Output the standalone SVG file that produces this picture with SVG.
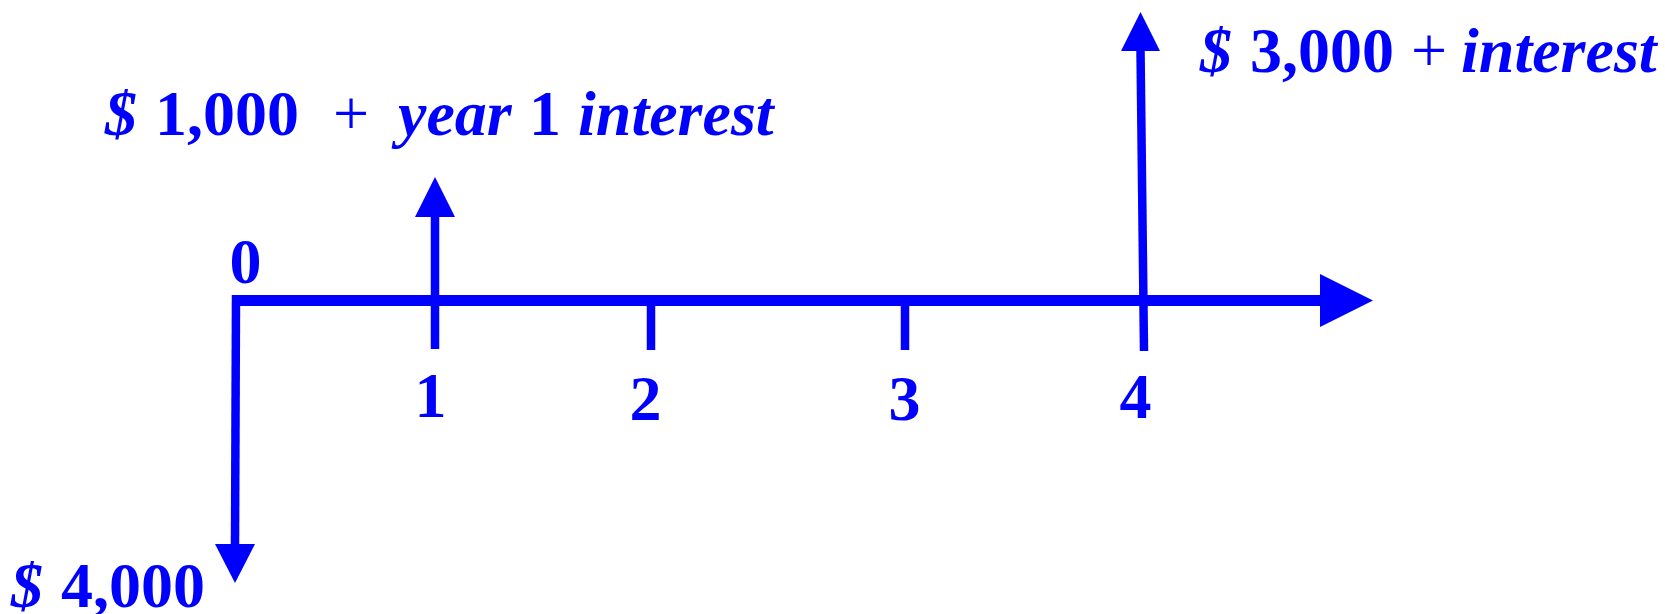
<svg xmlns="http://www.w3.org/2000/svg" width="1665" height="614" viewBox="0 0 1665 614">
<style>
.ln{stroke:#0000FF;fill:none;stroke-linecap:butt}
.ah{fill:#0000FF;stroke:none}
.t{font-family:"Liberation Serif","Times New Roman",serif;font-size:64px;fill:#0000FF;font-weight:bold}
.i{font-style:italic}
.n{font-weight:normal}
.m{text-anchor:middle}
</style>
<rect width="1665" height="614" fill="#FFFFFF"/>
<g id="connectors">
  <line class="ln" x1="232" y1="300.5" x2="1322" y2="300.5" stroke-width="11"/>
  <polygon class="ah" points="1320,274 1373,300.5 1320,327"/>
  <line class="ln" x1="236" y1="295" x2="235" y2="546" stroke-width="8.5"/>
  <polygon class="ah" points="215,544 255,544 235,583"/>
  <line class="ln" x1="435" y1="349" x2="435" y2="215" stroke-width="8.5"/>
  <polygon class="ah" points="415,217 455,217 435,177"/>
  <line class="ln" x1="651" y1="300" x2="651" y2="350" stroke-width="8.5"/>
  <line class="ln" x1="905" y1="300" x2="905" y2="350" stroke-width="8.5"/>
  <line class="ln" x1="1144" y1="351" x2="1140.5" y2="49" stroke-width="8.5"/>
  <polygon class="ah" points="1121,51 1160,51 1140.5,12"/>
</g>
<g id="period-labels">
  <text class="t m" x="245.5" y="283">0</text>
  <text class="t m" x="430.5" y="417">1</text>
  <text class="t m" x="645.5" y="420">2</text>
  <text class="t m" x="904.5" y="420">3</text>
  <text class="t m" x="1135.5" y="418">4</text>
</g>
<g id="label-year1">
  <text class="t" y="135"><tspan class="i" x="105">$</tspan><tspan x="155">1,000</tspan><tspan class="n" x="333">+</tspan><tspan class="i" x="398">year</tspan><tspan x="529">1</tspan><tspan class="i" x="578">interest</tspan></text>
</g>
<g id="label-year4">
  <text class="t" y="72"><tspan class="i" x="1200">$</tspan><tspan x="1250">3,000</tspan><tspan class="n" x="1411">+</tspan><tspan class="i" x="1461">interest</tspan></text>
</g>
<g id="label-year0">
  <text class="t" y="607"><tspan class="i" x="11">$</tspan><tspan x="61">4,000</tspan></text>
</g>
</svg>
